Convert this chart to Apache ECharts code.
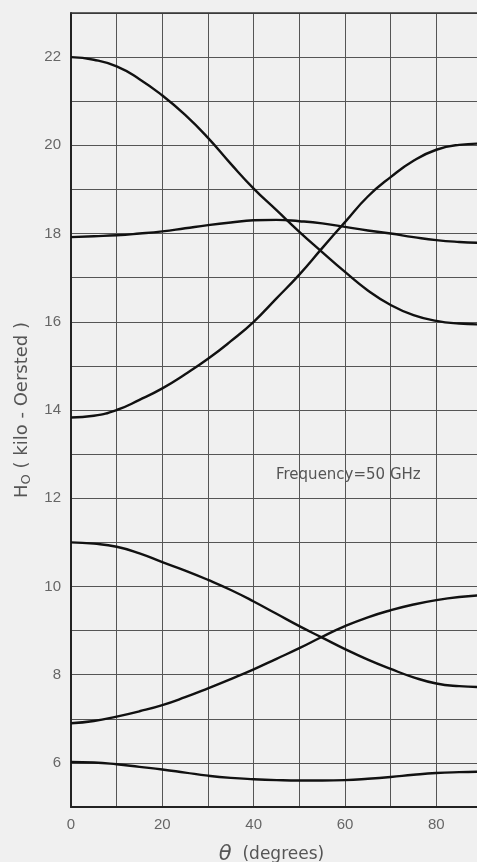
<!DOCTYPE html>
<html><head><meta charset="utf-8">
<script src="https://cdn.jsdelivr.net/npm/echarts@6/dist/echarts.min.js"></script>
<style>html,body{margin:0;padding:0;background:#f0f0f0;}#c{width:477px;height:862px;}</style>
</head><body><div id="c"></div>
<script>
const theta  = [0, 5, 10, 15, 20, 25, 30, 35, 40, 45, 50, 55, 60, 65, 70, 75, 80, 85, 90];
const curveA = [22.0, 21.94, 21.79, 21.5, 21.13, 20.69, 20.17, 19.58, 19.02, 18.53, 18.04, 17.58, 17.13, 16.71, 16.38, 16.15, 16.02, 15.96, 15.94];
const curveB = [17.92, 17.94, 17.96, 18.0, 18.05, 18.12, 18.19, 18.25, 18.3, 18.31, 18.28, 18.23, 18.15, 18.07, 18.0, 17.92, 17.85, 17.81, 17.79];
const curveC = [13.83, 13.87, 14.0, 14.23, 14.49, 14.81, 15.16, 15.56, 16.0, 16.53, 17.07, 17.67, 18.26, 18.84, 19.28, 19.65, 19.9, 20.01, 20.04];
const curveD = [11.0, 10.97, 10.9, 10.75, 10.55, 10.36, 10.15, 9.92, 9.66, 9.38, 9.1, 8.84, 8.58, 8.34, 8.13, 7.94, 7.8, 7.74, 7.72];
const curveE = [6.9, 6.95, 7.05, 7.17, 7.31, 7.49, 7.69, 7.9, 8.12, 8.36, 8.6, 8.86, 9.1, 9.3, 9.46, 9.59, 9.69, 9.76, 9.8];
const curveF = [6.02, 6.01, 5.97, 5.91, 5.85, 5.78, 5.71, 5.66, 5.63, 5.61, 5.6, 5.6, 5.61, 5.64, 5.68, 5.73, 5.77, 5.79, 5.8];
const xTickLabels = ['0', '20', '40', '60', '80'];
const yTickLabels = ['6', '8', '10', '12', '14', '16', '18', '20', '22'];
const annotation = 'Frequency=50 GHz';

const curves = [curveA, curveB, curveC, curveD, curveE, curveF];
const font = 'Liberation Sans, DejaVu Sans, sans-serif';
const font2 = 'DejaVu Sans, sans-serif';
const chart = echarts.init(document.getElementById('c'));
chart.setOption({
  backgroundColor: '#f0f0f0',
  animation: false,
  grid: {left: 71, top: 13, width: 411, height: 794, outerBoundsMode: 'none', containLabel: false},
  xAxis: [{
    type: 'value', min: 0, max: 90, interval: 10,
    axisLine: {show: true, lineStyle: {color: '#222', width: 2}},
    axisTick: {show: false},
    splitLine: {show: true, lineStyle: {color: '#555', width: 1}},
    axisLabel: {color: '#666', fontSize: 15, fontFamily: font, margin: 10,
      formatter: v => xTickLabels.includes(String(v)) ? String(v) : ''},
    name: '{i|θ}  (degrees)', nameLocation: 'middle', nameGap: 37,
    nameTextStyle: {color: '#555', fontSize: 17, fontFamily: font2, padding: [0, 10, 0, 0],
      rich: {i: {fontStyle: 'italic', fontSize: 21, color: '#555', fontFamily: font2}}}
  }, {
    type: 'value', position: 'top', min: 0, max: 90, interval: 10,
    axisLine: {show: true, lineStyle: {color: '#333', width: 1.5}},
    axisTick: {show: false}, axisLabel: {show: false}, splitLine: {show: false}
  }],
  yAxis: {
    type: 'value', min: 5, max: 23, interval: 1,
    axisLine: {show: true, lineStyle: {color: '#222', width: 2}},
    axisTick: {show: false},
    splitLine: {show: true, lineStyle: {color: '#555', width: 1}},
    axisLabel: {color: '#666', fontSize: 15, fontFamily: font, margin: 10,
      formatter: v => yTickLabels.includes(String(v)) ? String(v) : ''},
    name: 'H{s|O} ( kilo - Oersted )', nameLocation: 'middle', nameGap: 38,
    nameTextStyle: {color: '#555', fontSize: 18, fontFamily: font2,
      rich: {s: {fontSize: 13, color: '#555', fontFamily: font2, padding: [8, 0, 0, 0]}}}
  },
  graphic: [{
    type: 'text', left: 276, top: 468,
    style: {text: annotation, fill: '#555', fontSize: 15, fontFamily: font2}
  }],
  series: curves.map(c => ({
    type: 'line', smooth: true, symbol: 'none', clip: true,
    data: theta.map((t, i) => [t, c[i]]),
    lineStyle: {color: '#111', width: 2.4}
  }))
});
</script></body></html>
